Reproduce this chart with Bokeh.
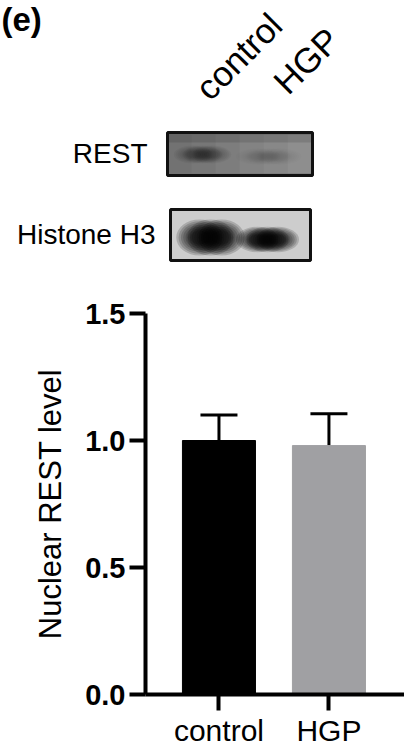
import math
from bokeh.plotting import figure
from bokeh.models import Range1d, FixedTicker, Whisker, TeeHead, ColumnDataSource, NumeralTickFormatter
from bokeh.layouts import column
from bokeh.core.properties import value
from bokeh.embed import file_html
from bokeh.resources import INLINE

# ---------------- data ----------------
categories = ["control", "HGP"]
means = [1.00, 0.98]
errors = [0.10, 0.125]
bar_colors = ["#000000", "#a0a0a3"]
y_ticks = [0.0, 0.5, 1.0, 1.5]
y_label = "Nuclear REST level"
panel_label = "(e)"
blot_rows = ["REST", "Histone H3"]
# relative band darkness per lane (control, HGP)
rest_bands = [0.6, 0.15]
histone_bands = [1.0, 0.95]

FONT = value("Liberation Sans")
W = 404
TOP_H = 268
BOT_H = 749 - TOP_H

# ---------------- top panel: blot ----------------
top = figure(width=W, height=TOP_H, x_range=Range1d(0, W), y_range=Range1d(TOP_H, 0),
             output_backend="svg", toolbar_location=None, min_border=0,
             outline_line_color=None)
top.axis.visible = False
top.grid.visible = False
top.frame_align = False

top.text(x=[1], y=[0], text=[panel_label], text_font=FONT, text_font_size="33px",
         text_font_style="bold", text_align="left", text_baseline="top", text_color="black")

# lane headers (rotated)
lane_x = [201, 279]
lane_y = [93, 87]
top.text(x=lane_x, y=lane_y, text=categories, text_font=FONT, text_font_size="35px",
         text_align="left", text_baseline="alphabetic", angle=math.pi / 4, text_color="black")

# row labels
top.text(x=[147, 155], y=[153, 234], text=blot_rows, text_font=FONT, text_font_size="28px",
         text_align="right", text_baseline="middle", text_color="black")

# blot boxes
boxes = [(167, 312, 132, 175, "#727272"), (170, 310, 209, 260, "#cdcdcd")]
for (x0, x1, y0, y1, fill) in boxes:
    top.quad(left=[x0], right=[x1], top=[y0], bottom=[y1], fill_color=fill, line_color=None)

# REST box shading: lighter towards right
for i, a in enumerate([0.0, 0.04, 0.08, 0.12, 0.16, 0.2]):
    x0 = 167 + i * 24
    top.quad(left=[x0], right=[x0 + 24], top=[134], bottom=[173], fill_color="white",
             fill_alpha=a, line_color=None)
top.quad(left=[167], right=[312], top=[132], bottom=[142], fill_color="black", fill_alpha=0.12, line_color=None)

def band(cx, cy, w, h, strength):
    # soft rounded band built from overlapping translucent ellipses
    for s in [1.5, 1.35, 1.2, 1.05, 0.9, 0.75, 0.6]:
        for dx in (-0.22, 0.0, 0.22):
            top.ellipse(x=[cx + dx * w], y=[cy], width=w * 0.62 * s, height=h * s,
                        fill_color="black", fill_alpha=0.07 * strength, line_color=None)

rest_cx = [202, 268]
hist_cx = [210, 267]
band(rest_cx[0], 154, 42, 12, rest_bands[0])
band(rest_cx[1], 156, 48, 11, rest_bands[1])
band(hist_cx[0], 237, 50, 24, histone_bands[0] * 2.4)
band(hist_cx[1], 239, 46, 17, histone_bands[1] * 2.4)

for (x0, x1, y0, y1, fill) in boxes:
    top.quad(left=[x0], right=[x1], top=[y0], bottom=[y1], fill_color=None,
             line_color="#111111", line_width=3)

# ---------------- bottom panel: bar chart ----------------
xs = list(range(len(categories)))
src = ColumnDataSource(dict(x=xs, top=means, color=bar_colors,
                            upper=[m + e for m, e in zip(means, errors)], lower=means))

p = figure(width=W, height=BOT_H, x_range=Range1d(-0.668, 1.687), y_range=Range1d(0, 1.5),
           output_backend="svg", toolbar_location=None,
           min_border_left=145, min_border_right=0, min_border_top=313 - TOP_H,
           min_border_bottom=0, outline_line_color=None)
p.grid.visible = False
p.frame_align = False

p.vbar(x="x", top="top", width=0.664, color="color", source=src)
wh = Whisker(base="x", upper="upper", lower="lower", source=src, line_width=3, line_color="black",
             upper_head=TeeHead(size=37, line_width=3, line_color="black"), lower_head=None)
p.add_layout(wh)

p.yaxis.ticker = FixedTicker(ticks=y_ticks)
p.yaxis.formatter = NumeralTickFormatter(format="0.0")
p.xaxis.ticker = FixedTicker(ticks=xs)
p.xaxis.major_label_overrides = {i: c for i, c in enumerate(categories)}

for ax in [p.xaxis[0], p.yaxis[0]]:
    ax.axis_line_width = 4
    ax.axis_line_color = "black"
    ax.major_tick_line_width = 4
    ax.major_tick_line_color = "black"
    ax.major_tick_in = 0
    ax.major_tick_out = 16
    ax.minor_tick_line_color = None
    ax.major_label_text_font = "Liberation Sans"
    ax.major_label_text_color = "black"

p.yaxis.major_label_text_font_size = "29px"
p.yaxis.major_label_text_font_style = "bold"
p.yaxis.major_label_standoff = 4
p.yaxis.axis_label = y_label
p.yaxis.axis_label_text_font = "Liberation Sans"
p.yaxis.axis_label_text_font_size = "31px"
p.yaxis.axis_label_text_font_style = "normal"
p.yaxis.axis_label_text_color = "black"
p.yaxis.axis_label_standoff = 14

p.xaxis.major_label_text_font_size = "30px"
p.xaxis.major_label_standoff = 3
p.xaxis.major_label_text_line_height = 1.0

layout = column(top, p, spacing=0)
open("out.html", "w").write(file_html(layout, INLINE))
